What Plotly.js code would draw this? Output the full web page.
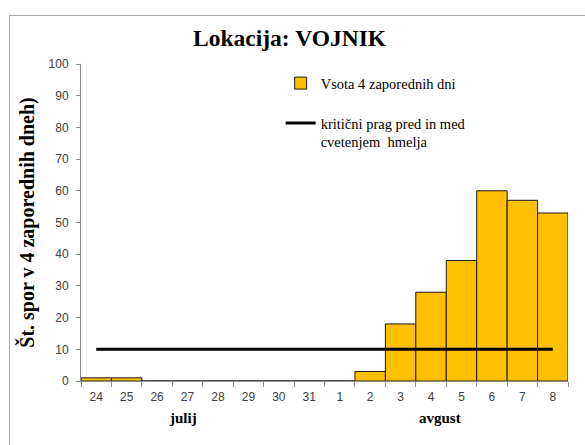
<!DOCTYPE html>
<html><head><meta charset="utf-8">
<script src="https://cdn.plot.ly/plotly-3.0.1.min.js"></script>
<style>html,body{margin:0;padding:0;overflow:hidden;background:#fff}#wrap{position:relative;width:585px;height:445px;overflow:hidden}#chart{width:585px;height:445px}#frame{position:absolute;left:9px;top:15px;width:620px;height:500px;border:1px solid #a6a6a6;pointer-events:none}</style>
</head><body><div id="wrap"><div id="chart"></div><div id="frame"></div></div>
<script>
const days = ['24','25','26','27','28','29','30','31','1','2','3','4','5','6','7','8'];
const sums = [1,1,0,0,0,0,0,0,0,3,18,28,38,60,57,53];
const thresholdX = ['24','8'];
const thresholdY = [10,10];
const seriesNames = ['Vsota 4 zaporednih dni','kritični prag pred in med<br>cvetenjem  hmelja'];
const monthLabels = ['julij','avgust'];
const monthCenters = [2.85, 11.3]; // category index positions

const serif = 'Liberation Serif';
const sans = 'Liberation Sans';

const traces = [
  {type:'bar', x:days, y:sums, name:seriesNames[0], width:1,
   marker:{color:'#FFC000', line:{color:'#1a1a1a', width:1}}, legendgroup:'a'},
  {type:'scatter', mode:'lines', x:thresholdX, y:thresholdY, name:seriesNames[1],
   line:{color:'#000', width:3}, legendgroup:'b'}
];

const annotations = monthLabels.map((m,i) => ({
  x:monthCenters[i], y:0, xref:'x', yref:'paper', yanchor:'middle', yshift:-37, text:'<b>'+m+'</b>', showarrow:false,
  font:{family:serif, size:15, color:'#000'}
}));

const layout = {
  width:585, height:445,
  margin:{l:81, r:17, t:64, b:64},
  font:{family:serif},
  paper_bgcolor:'#fff', plot_bgcolor:'#fff',
  title:{text:'<b>Lokacija: VOJNIK</b>', x:0.495, xanchor:'center', y:0.915, yanchor:'middle',
    font:{family:serif, size:23.5, color:'#000'}},
  showlegend:true,
  legend:{x:0.41, y:0.99, xanchor:'left', yanchor:'top', bgcolor:'rgba(0,0,0,0)', valign:'top',
    font:{family:serif, size:14.5, color:'#000'}, traceorder:'grouped', tracegroupgap:18, itemwidth:30},
  xaxis:{type:'category', showline:true, linecolor:'#8c8c8c', linewidth:1, ticks:'outside',
    tickson:'boundaries', ticklen:5, tickcolor:'#8c8c8c', showgrid:false, zeroline:false,
    ticklabelstandoff:5,
    tickfont:{family:sans, size:12, color:'#404040'}, range:[-0.5,15.5]},
  yaxis:{range:[0,100], dtick:10, showline:true, linecolor:'#8c8c8c', linewidth:1, ticks:'outside',
    ticklen:4, tickcolor:'#8c8c8c', showgrid:false, zeroline:false, ticklabelstandoff:5,
    tickfont:{family:sans, size:12, color:'#404040'},
    title:{text:'<b>Št. spor v 4 zaporednih dneh)</b>', font:{family:serif, size:20, color:'#000'}, standoff:8}},
  annotations:annotations,
  bargap:0
};
Plotly.newPlot('chart', traces, layout, {displayModeBar:false, staticPlot:true});
</script></body></html>
